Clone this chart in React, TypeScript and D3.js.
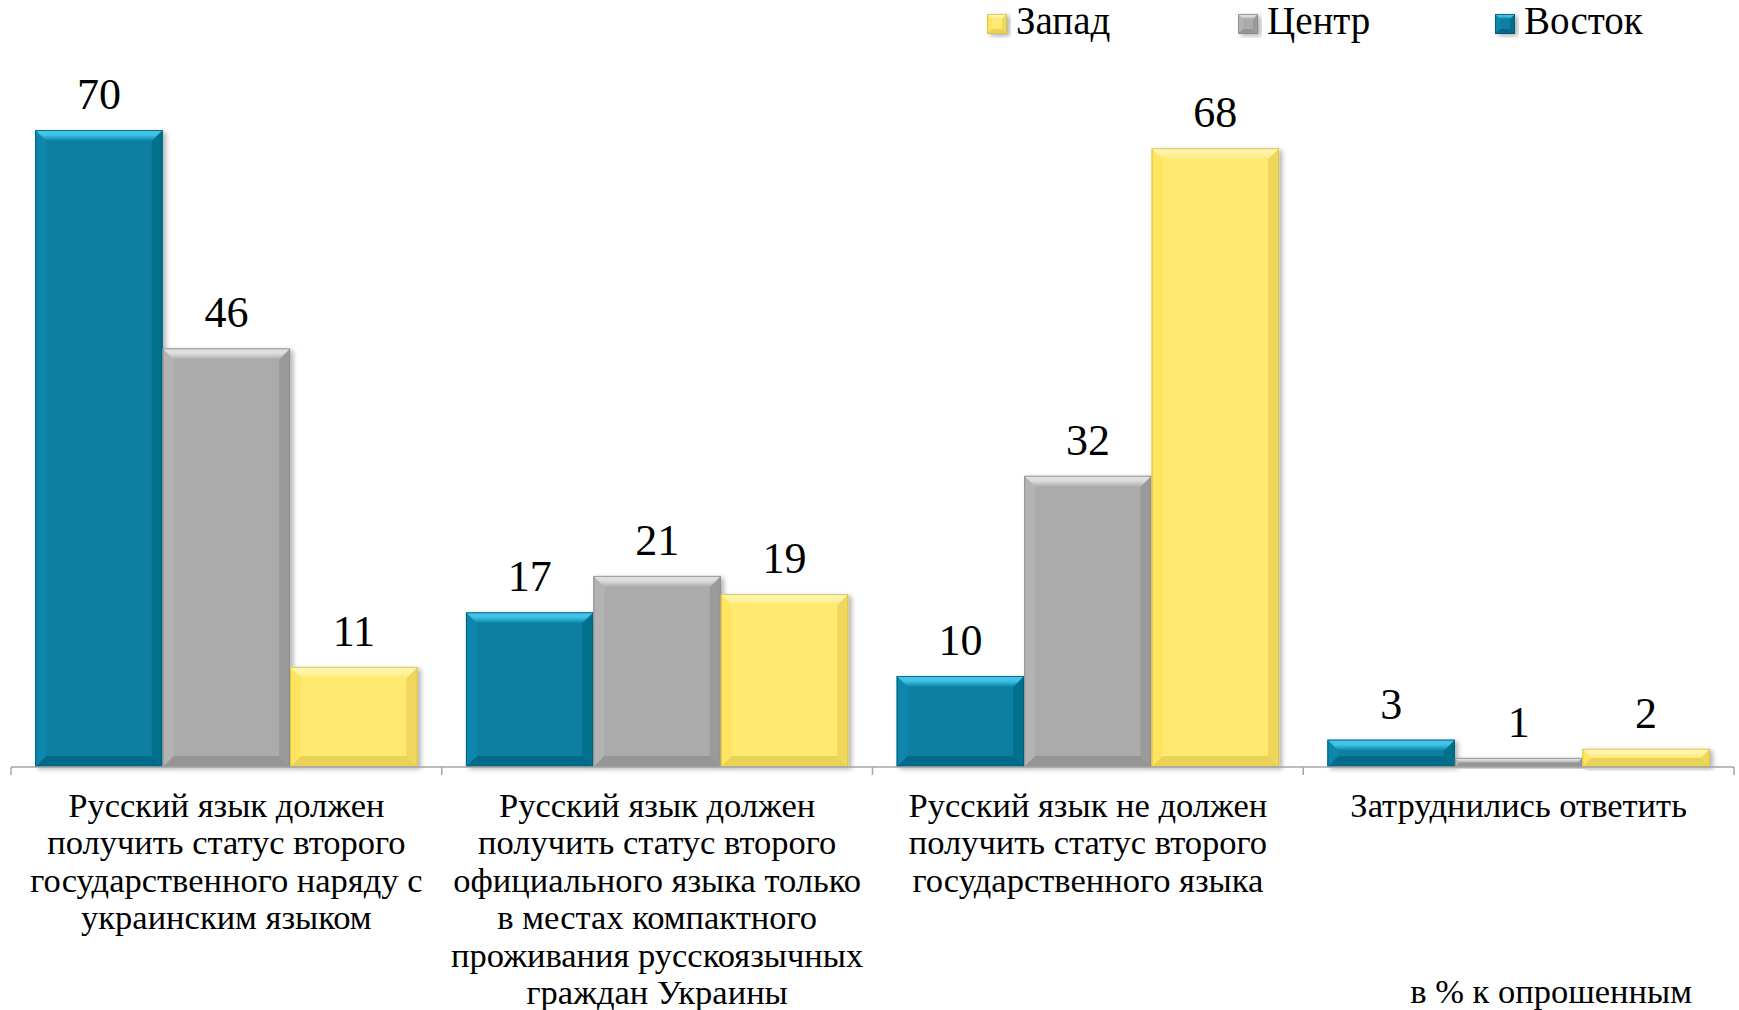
import React, { useEffect } from "react";
import * as d3 from "d3";

const categories: string[][] = [
  ["Русский язык должен", "получить статус второго", "государственного наряду с", "украинским языком"],
  ["Русский язык должен", "получить статус второго", "официального языка только", "в местах компактного", "проживания русскоязычных", "граждан Украины"],
  ["Русский язык не должен", "получить статус второго", "государственного языка"],
  ["Затруднились ответить"],
];
const seriesNames = ["Восток", "Центр", "Запад"];
const vostok = [70, 17, 10, 3];
const centr = [46, 21, 32, 1];
const zapad = [11, 19, 68, 2];
const legendOrder = ["Запад", "Центр", "Восток"];
const note = "в % к опрошенным";

const W = 1739;
const H = 1010;
const FONT = "'Liberation Serif', 'Times New Roman', serif";

const colors: Record<string, { main: string; light: string; dark: string; side: string; edge: string }> = {
  "Восток": { main: "#087FA1", light: "#45C8EE", dark: "#05627E", side: "#0A88AC", edge: "#04566F" },
  "Центр": { main: "#ABABAB", light: "#E2E2E2", dark: "#8C8C8C", side: "#B3B3B3", edge: "#8A8A8A" },
  "Запад": { main: "#FFE971", light: "#FFF5B0", dark: "#E0C84A", side: "#FFE55F", edge: "#D6BE45" },
};

function BevelRect({ x, y, w, h, name, b0 = 11 }: { x: number; y: number; w: number; h: number; name: string; b0?: number }) {
  const c = colors[name];
  const b = Math.max(0, Math.min(b0, h / 2, w / 2));
  const id = name === "Восток" ? "v" : name === "Центр" ? "c" : "z";
  const top = `${x},${y} ${x + w},${y} ${x + w - b},${y + b} ${x + b},${y + b}`;
  const left = `${x},${y} ${x + b},${y + b} ${x + b},${y + h - b} ${x},${y + h}`;
  const right = `${x + w},${y} ${x + w},${y + h} ${x + w - b},${y + h - b} ${x + w - b},${y + b}`;
  const bottom = `${x},${y + h} ${x + b},${y + h - b} ${x + w - b},${y + h - b} ${x + w},${y + h}`;
  return (
    <g filter="url(#shadow)">
      <rect x={x} y={y} width={w} height={h} fill={c.main} />
      <polygon points={left} fill={c.side} />
      <polygon points={right} fill={c.dark} opacity={0.55} />
      <polygon points={bottom} fill={c.dark} opacity={0.7} />
      <polygon points={top} fill={`url(#top-${id})`} />
      <rect x={x + 0.5} y={y + 0.5} width={Math.max(0, w - 1)} height={Math.max(0, h - 1)} fill="none" stroke={c.edge} strokeWidth={1} opacity={0.8} />
    </g>
  );
}

export default function App() {
  useEffect(() => {
    document.body.style.margin = "0";
  }, []);

  const axisY = 767;
  const x0 = d3.scaleBand<number>().domain(d3.range(categories.length)).range([11, 1734]).paddingInner(0).paddingOuter(0);
  const x1 = d3.scaleBand<string>().domain(seriesNames).range([0, x0.bandwidth()]).paddingInner(0).paddingOuter(0.19);
  const y = d3.scaleLinear().domain([0, 70]).range([axisY, 130]);

  const seriesData: Record<string, number[]> = { "Восток": vostok, "Центр": centr, "Запад": zapad };

  const ticks = d3.range(categories.length + 1).map((i) => (i < categories.length ? (x0(i) as number) : 1734));

  const legendX: Record<string, number> = { "Запад": 987, "Центр": 1238, "Восток": 1495 };

  return (
    <svg width={W} height={H} style={{ display: "block", background: "#fff" }} fontFamily={FONT}>
      <defs>
        <filter id="shadow" x="-10%" y="-10%" width="130%" height="130%">
          <feDropShadow dx="3" dy="2" stdDeviation="2.5" floodColor="#000" floodOpacity="0.3" />
        </filter>
        {seriesNames.map((n) => {
          const id = n === "Восток" ? "v" : n === "Центр" ? "c" : "z";
          return (
            <linearGradient key={id} id={`top-${id}`} x1="0" y1="0" x2="0" y2="1">
              <stop offset="0" stopColor={colors[n].light} />
              <stop offset="0.45" stopColor={colors[n].light} stopOpacity={0.9} />
              <stop offset="1" stopColor={colors[n].main} />
            </linearGradient>
          );
        })}
      </defs>

      {/* bars */}
      {categories.map((_, ci) =>
        seriesNames.map((s) => {
          const v = seriesData[s][ci];
          const bx = (x0(ci) as number) + (x1(s) as number);
          const bw = x1.bandwidth();
          const by = y(v);
          return <BevelRect key={`${ci}-${s}`} x={bx} y={by} w={bw} h={axisY - by} name={s} />;
        })
      )}

      {/* axis */}
      <line x1={11} x2={1734} y1={axisY} y2={axisY} stroke="#A6A6A6" strokeWidth={1.5} />
      {ticks.map((t, i) => (
        <line key={i} x1={t} x2={t} y1={axisY} y2={axisY + 8} stroke="#A6A6A6" strokeWidth={1.5} />
      ))}

      {/* value labels */}
      {categories.map((_, ci) =>
        seriesNames.map((s) => {
          const v = seriesData[s][ci];
          const cx = (x0(ci) as number) + (x1(s) as number) + x1.bandwidth() / 2;
          return (
            <text key={`l-${ci}-${s}`} x={cx} y={y(v) - 21} textAnchor="middle" fontSize={44} fill="#000">
              {v}
            </text>
          );
        })
      )}

      {/* category labels */}
      {categories.map((lines, ci) => {
        const cx = (x0(ci) as number) + x0.bandwidth() / 2;
        return (
          <text key={`c-${ci}`} x={cx} y={817} textAnchor="middle" fontSize={34.5} fill="#000">
            {lines.map((ln, li) => (
              <tspan key={li} x={cx} y={817 + li * 37.4}>
                {ln}
              </tspan>
            ))}
          </text>
        );
      })}

      {/* note */}
      <text x={1692} y={1003} textAnchor="end" fontSize={34.5} fill="#000">
        {note}
      </text>

      {/* legend */}
      {legendOrder.map((n) => {
        const lx = legendX[n];
        return (
          <g key={n}>
            <BevelRect x={lx} y={14} w={20} h={20} name={n} b0={5} />
            <text x={lx + 29} y={34} fontSize={39} fill="#000">
              {n}
            </text>
          </g>
        );
      })}
    </svg>
  );
}
